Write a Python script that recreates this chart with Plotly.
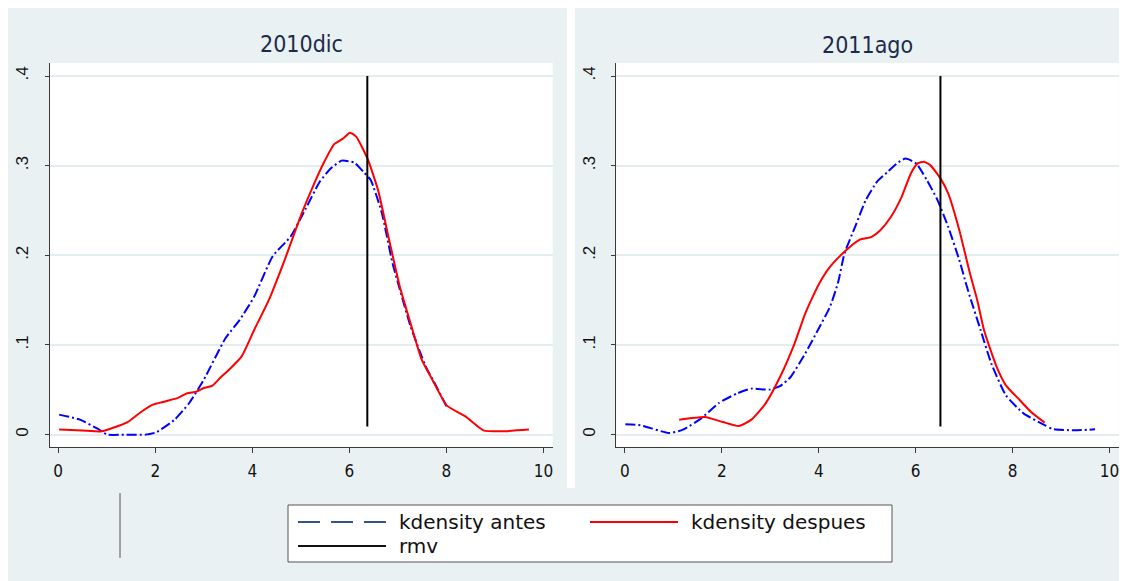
import plotly.graph_objects as go

# ---------------- data ----------------
panel_titles = ["2010dic", "2011ago"]
x_ticks = [0, 2, 4, 6, 8, 10]
y_ticks = [0, 0.1, 0.2, 0.3, 0.4]
y_tick_labels = ["0", ".1", ".2", ".3", ".4"]

# 2010dic - kdensity antes
dic_antes_x = [0.02, 0.45, 0.82, 1.01, 1.40, 1.80, 2.02, 2.40, 2.70, 3.00, 3.45, 3.74, 4.04, 4.42,
               4.79, 5.09, 5.39, 5.62, 5.84, 6.10, 6.29, 6.44, 6.67, 6.89, 7.04, 7.26, 7.57, 7.79, 8.00]
dic_antes_y = [0.0223, 0.0167, 0.0063, 0.0, 0.0, 0.0, 0.0026, 0.0167, 0.0353, 0.0613, 0.1077, 0.128,
               0.154, 0.199, 0.221, 0.251, 0.282, 0.297, 0.3056, 0.3034, 0.293, 0.284, 0.247, 0.191,
               0.162, 0.121, 0.0765, 0.054, 0.0316]
# 2010dic - kdensity despues
dic_desp_x = [0.02, 0.50, 0.90, 1.15, 1.42, 1.70, 1.95, 2.20, 2.47, 2.65, 2.85, 3.00, 3.18, 3.35,
              3.52, 3.78, 4.04, 4.34, 4.64, 5.02, 5.25, 5.47, 5.69, 5.88, 6.01, 6.14, 6.37, 6.59,
              6.82, 7.04, 7.26, 7.49, 7.71, 8.01, 8.39, 8.76, 9.14, 9.70]
dic_desp_y = [0.0056, 0.0045, 0.0037, 0.008, 0.0137, 0.025, 0.0334, 0.037, 0.041, 0.046, 0.048,
              0.052, 0.0546, 0.064, 0.0724, 0.0873, 0.117, 0.150, 0.191, 0.247, 0.277, 0.303,
              0.324, 0.3306, 0.3368, 0.3324, 0.3083, 0.273, 0.217, 0.165, 0.1244, 0.0836, 0.0613,
              0.0323, 0.0204, 0.0048, 0.0037, 0.0056]

# 2011ago - kdensity antes
ago_antes_x = [0.01, 0.32, 0.91, 1.20, 1.57, 1.94, 2.31, 2.61, 2.98, 3.20, 3.42, 3.72, 3.98, 4.23,
               4.40, 4.53, 4.75, 4.97, 5.20, 5.42, 5.60, 5.79, 6.01, 6.23, 6.45, 6.67, 6.90, 7.04,
               7.12, 7.34, 7.56, 7.86, 8.23, 8.67, 8.82, 9.26, 9.70]
ago_antes_y = [0.0115, 0.0104, 0.0018, 0.0056, 0.0179, 0.0353, 0.0458, 0.0513, 0.0502, 0.054,
               0.0643, 0.0904, 0.1164, 0.1424, 0.170, 0.202, 0.2318, 0.2616, 0.282, 0.293, 0.302,
               0.308, 0.3025, 0.2839, 0.2616, 0.2318, 0.1946, 0.168, 0.1536, 0.1164, 0.0793,
               0.0439, 0.0234, 0.0104, 0.0063, 0.0048, 0.0059]
# 2011ago - kdensity despues
ago_desp_x = [1.12, 1.65, 2.02, 2.35, 2.61, 2.90, 3.20, 3.50, 3.72, 3.86, 4.01, 4.23, 4.53, 4.83,
              5.09, 5.27, 5.49, 5.71, 5.90, 6.04, 6.17, 6.30, 6.51, 6.67, 6.90, 7.12, 7.27, 7.41,
              7.67, 7.86, 8.15, 8.38, 8.66]
ago_desp_y = [0.0167, 0.0197, 0.0141, 0.0096, 0.0167, 0.0346, 0.0643, 0.1016, 0.135, 0.152,
              0.1686, 0.187, 0.204, 0.217, 0.2206, 0.228, 0.243, 0.2652, 0.2913, 0.3025, 0.3043,
              0.3006, 0.2858, 0.269, 0.228, 0.1797, 0.150, 0.1164, 0.0755, 0.055, 0.0383,
              0.0252, 0.0134]

# rmv vertical reference values
rmv_x = [6.37, 6.51]
rmv_y = [0.009, 0.4]

legend_labels = ["kdensity antes", "kdensity despues", "rmv"]

# ---------------- figure ----------------
W, H = 1127, 581
OFF = 8  # page body margin


def px(x):
    return (x - OFF) / W


def py(y):
    return 1 - (y - OFF) / H


BG = "#eaf1f3"
GRID = "#e3ecef"
AX = "#3a3a3a"
BLUE = "#0000ff"
RED = "#ff0000"
NARROW = "Liberation Sans Narrow, DejaVu Sans Condensed, Arial Narrow, sans-serif"
SANS = "Liberation Sans, Arial, sans-serif"
LEGF = "DejaVu Sans, Verdana, sans-serif"

fig = go.Figure()

panels = [
    (dic_antes_x, dic_antes_y, dic_desp_x, dic_desp_y, rmv_x[0], "x", "y"),
    (ago_antes_x, ago_antes_y, ago_desp_x, ago_desp_y, rmv_x[1], "x2", "y2"),
]
for ax_x, ax_y, dx, dy, rv, xa, ya in panels:
    fig.add_trace(go.Scatter(x=ax_x, y=ax_y, mode="lines", xaxis=xa, yaxis=ya,
                             line=dict(color=BLUE, width=2, dash="10px,3px,2px,3px",
                                       shape="spline", smoothing=0.5),
                             showlegend=False, name=legend_labels[0]))
    fig.add_trace(go.Scatter(x=dx, y=dy, mode="lines", xaxis=xa, yaxis=ya,
                             line=dict(color=RED, width=2, shape="spline", smoothing=0.5),
                             showlegend=False, name=legend_labels[1]))
    fig.add_trace(go.Scatter(x=[rv, rv], y=rmv_y, mode="lines", xaxis=xa, yaxis=ya,
                             line=dict(color="#000000", width=2),
                             showlegend=False, name=legend_labels[2]))

xaxis_common = dict(
    tickvals=x_ticks, ticks="outside", ticklen=5, tickcolor=AX, tickwidth=1,
    showline=True, linecolor=AX, linewidth=1, showgrid=False, zeroline=False,
    ticklabelstandoff=4,
    tickfont=dict(family=NARROW, size=17, color="#111111"),
)
yaxis_common = dict(
    tickvals=y_ticks, ticktext=y_tick_labels, tickangle=-90,
    ticks="outside", ticklen=4, tickcolor=AX, tickwidth=1,
    showline=True, linecolor=AX, linewidth=1,
    showgrid=True, gridcolor=GRID, gridwidth=2, zeroline=False,
    range=[-0.0138, 0.4145], ticklabelstandoff=10,
    tickfont=dict(family=SANS, size=17, color="#111111"),
)

fig.update_layout(
    width=W, height=H,
    margin=dict(l=0, r=0, t=0, b=0),
    paper_bgcolor=BG, plot_bgcolor="white",
    xaxis=dict(domain=[px(49.8), px(552.7)], range=[-0.173, 10.19], anchor="y", **xaxis_common),
    yaxis=dict(domain=[py(447), py(63)], anchor="x", **yaxis_common),
    xaxis2=dict(domain=[px(616.3), px(1118.8)], range=[-0.177, 10.19], anchor="y2", **xaxis_common),
    yaxis2=dict(domain=[py(447), py(63)], anchor="x2", **yaxis_common),
    showlegend=False,
)

shapes = [
    # white gap between panels
    dict(type="rect", xref="paper", yref="paper", x0=px(567), x1=px(575), y0=py(488), y1=1,
         fillcolor="white", line=dict(width=0), layer="below"),
    # stray vertical line
    dict(type="line", xref="paper", yref="paper", x0=px(120), x1=px(120), y0=py(493), y1=py(558),
         line=dict(color="#555555", width=1)),
    # legend box
    dict(type="rect", xref="paper", yref="paper", x0=px(288), x1=px(892), y0=py(562), y1=py(505),
         fillcolor="white", line=dict(color="#555555", width=1)),
    dict(type="line", xref="paper", yref="paper", x0=px(298), x1=px(386), y0=py(522), y1=py(522),
         line=dict(color="#34557f", width=2, dash="22px,11px")),
    dict(type="line", xref="paper", yref="paper", x0=px(590), x1=px(678), y0=py(522), y1=py(522),
         line=dict(color=RED, width=2)),
    dict(type="line", xref="paper", yref="paper", x0=px(298), x1=px(386), y0=py(546), y1=py(546),
         line=dict(color="#111111", width=2)),
]

annotations = [
    dict(text=panel_titles[0], xref="paper", yref="paper", x=px(301.5), y=py(44),
         xanchor="center", yanchor="middle", showarrow=False,
         font=dict(family=NARROW, size=23, color="#1c2b4a")),
    dict(text=panel_titles[1], xref="paper", yref="paper", x=px(867.5), y=py(45),
         xanchor="center", yanchor="middle", showarrow=False,
         font=dict(family=NARROW, size=23, color="#1c2b4a")),
    dict(text=legend_labels[0], xref="paper", yref="paper", x=px(397), y=py(522),
         xanchor="left", yanchor="middle", showarrow=False,
         font=dict(family=LEGF, size=20, color="#111111")),
    dict(text=legend_labels[1], xref="paper", yref="paper", x=px(689), y=py(522),
         xanchor="left", yanchor="middle", showarrow=False,
         font=dict(family=LEGF, size=20, color="#111111")),
    dict(text=legend_labels[2], xref="paper", yref="paper", x=px(397), y=py(546),
         xanchor="left", yanchor="middle", showarrow=False,
         font=dict(family=LEGF, size=20, color="#111111")),
]
fig.update_layout(shapes=shapes, annotations=annotations)

fig.write_html("out.html")
